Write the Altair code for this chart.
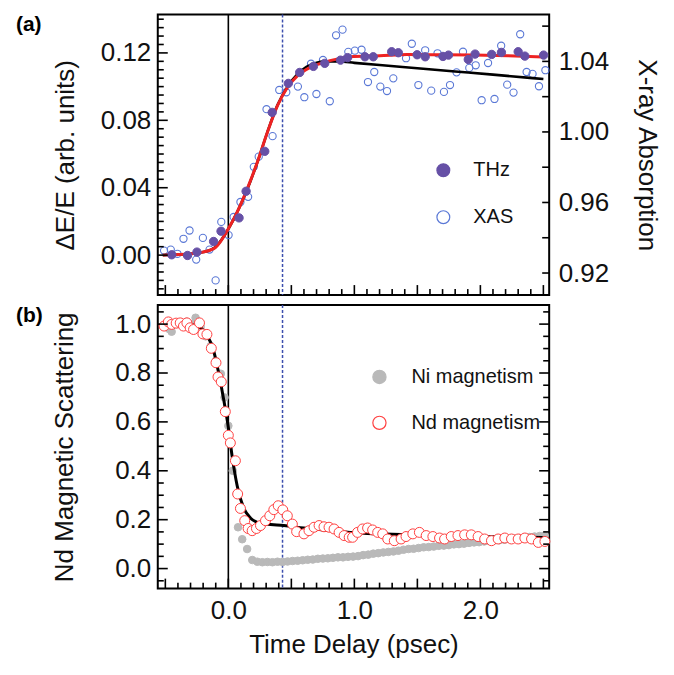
import altair as alt
import pandas as pd

# ---------------- data ----------------
# panel (a): THz (left axis) and XAS (right axis)
thz_t = [-0.449, -0.324, -0.249, -0.117, -0.058, 0.085, 0.141, 0.289, 0.348, 0.476,
         0.566, 0.675, 0.765, 0.890, 0.946, 1.084, 1.150, 1.296, 1.349, 1.498,
         1.562, 1.703, 1.747, 1.904, 1.958, 2.090, 2.167, 2.300, 2.353, 2.502]
thz_v = [0.0002, -0.0002, 0.0018, 0.0081, 0.0142, 0.0221, 0.0379, 0.0616, 0.0847, 0.1019,
         0.1084, 0.1120, 0.1138, 0.1157, 0.1172, 0.1177, 0.1177, 0.1207, 0.1201, 0.1189,
         0.1177, 0.1179, 0.1187, 0.1161, 0.1193, 0.1191, 0.1203, 0.1207, 0.1181, 0.1187]

xas_t = [-0.510, -0.457, -0.404, -0.356, -0.308, -0.255, -0.202, -0.149, -0.101, -0.056,
         0.002, 0.042, 0.096, 0.157, 0.202, 0.241, 0.303, 0.351, 0.404, 0.460,
         0.552, 0.603, 0.656, 0.699, 0.751, 0.805, 0.855, 0.906, 0.952, 1.004,
         1.057, 1.108, 1.158, 1.206, 1.259, 1.309, 1.410, 1.456, 1.508, 1.562,
         1.610, 1.660, 1.711, 1.759, 1.811, 1.862, 1.912, 1.963, 2.010, 2.061,
         2.112, 2.165, 2.213, 2.263, 2.316, 2.367, 2.414, 2.465, 2.516]
xas_v = [0.9327, 0.9333, 0.9309, 0.9394, 0.9441, 0.9276, 0.9399, 0.9333, 0.9158, 0.9490,
         0.9415, 0.9518, 0.9603, 0.9632, 0.9802, 0.9860, 1.0129, 0.9976, 1.0238, 1.0225,
         1.0257, 1.0197, 1.0387, 1.0215, 1.0408, 1.0174, 1.0548, 1.0580, 1.0454, 1.0461,
         1.0466, 1.0283, 1.0340, 1.0257, 1.0232, 1.0304, 1.0418, 1.0500, 1.0266, 1.0463,
         1.0234, 1.0446, 1.0227, 1.0266, 1.0338, 1.0455, 1.0363, 1.0378, 1.0180, 1.0391,
         1.0187, 1.0489, 1.0268, 1.0223, 1.0554, 1.0340, 1.0329, 1.0259, 1.0350]

thz_fit_t = [-0.52, -0.3, -0.2, -0.1, 0.0, 0.07, 0.15, 0.23, 0.31, 0.39, 0.47, 0.55,
             0.65, 0.76, 0.86, 0.97, 1.2, 1.42, 1.69, 1.95, 2.22, 2.5]
thz_fit_v = [0.0, 0.0008, 0.0018, 0.0047, 0.0156, 0.0255, 0.0393, 0.0551, 0.0729, 0.0887,
             0.0996, 0.1065, 0.1114, 0.1144, 0.1163, 0.1177, 0.1183, 0.1191, 0.1189,
             0.1187, 0.1183, 0.1175]

xas_fit_t = [-0.52, -0.3, -0.2, -0.1, 0.0, 0.07, 0.15, 0.23, 0.31, 0.39, 0.47, 0.55,
             0.62, 0.70, 0.78, 0.88, 1.0, 1.2, 1.5, 1.8, 2.1, 2.5]
xas_fit_v = [0.0, 0.0008, 0.0018, 0.005, 0.0155, 0.0255, 0.039, 0.055, 0.073, 0.089,
             0.100, 0.1075, 0.1118, 0.1142, 0.1150, 0.1149, 0.1141, 0.1128, 0.1109,
             0.1090, 0.1071, 0.1045]

# panel (b): magnetic scattering
ni_t = [-0.51, -0.47, -0.45, -0.41, -0.37, -0.33, -0.29, -0.26, -0.22, -0.18,
        -0.14, -0.10, -0.06, -0.03, 0.0, 0.035, 0.077, 0.11, 0.149, 0.19,
        0.23, 0.27, 0.31, 0.35, 0.39, 0.43, 0.47, 0.51, 0.55, 0.59,
        0.63, 0.67, 0.71, 0.75, 0.79, 0.83, 0.87, 0.91, 0.95, 0.99,
        1.03, 1.07, 1.11, 1.15, 1.19, 1.23, 1.27, 1.31, 1.35, 1.39,
        1.43, 1.47, 1.51, 1.55, 1.59, 1.63, 1.67, 1.71, 1.75, 1.79,
        1.83, 1.87, 1.91, 1.95, 1.99, 2.03, 2.07, 2.11, 2.15, 2.19,
        2.23, 2.27, 2.31, 2.35, 2.39, 2.43, 2.47, 2.51]
ni_v = [0.99, 0.98, 0.969, 1.0, 1.0, 1.01, 1.0, 1.026, 0.99, 0.95,
        0.91, 0.85, 0.797, 0.70, 0.584, 0.40, 0.169, 0.12, 0.080, 0.035,
        0.028, 0.026, 0.027, 0.026, 0.028, 0.027, 0.029, 0.031, 0.032, 0.034,
        0.036, 0.037, 0.040, 0.041, 0.042, 0.044, 0.046, 0.046, 0.048, 0.049,
        0.051, 0.055, 0.057, 0.061, 0.063, 0.066, 0.068, 0.070, 0.073, 0.077,
        0.080, 0.081, 0.084, 0.087, 0.088, 0.090, 0.093, 0.094, 0.096, 0.099,
        0.100, 0.102, 0.105, 0.107, 0.108, 0.111, 0.113, 0.115, 0.116, 0.118,
        0.121, 0.123, 0.125, 0.127, 0.129, 0.131, 0.133, 0.135]

nd_t = [-0.510, -0.476, -0.449, -0.414, -0.382, -0.356, -0.329, -0.303, -0.276, -0.229,
        -0.202, -0.170, -0.135, -0.098, -0.082, -0.056, -0.024, 0.000, 0.016, 0.056,
        0.074, 0.096, 0.130, 0.157, 0.189, 0.223, 0.255, 0.295, 0.329, 0.361,
        0.396, 0.432, 0.468, 0.508, 0.542, 0.600, 0.640, 0.680, 0.720, 0.759,
        0.799, 0.839, 0.879, 0.919, 0.959, 0.986, 1.025, 1.065, 1.105, 1.145,
        1.185, 1.225, 1.265, 1.317, 1.371, 1.410, 1.464, 1.516, 1.570, 1.623,
        1.676, 1.716, 1.769, 1.822, 1.875, 1.928, 1.982, 2.034, 2.088, 2.141,
        2.194, 2.247, 2.300, 2.353, 2.406, 2.460, 2.512]
nd_v = [0.992, 1.009, 0.999, 1.004, 1.005, 0.992, 1.005, 0.985, 0.978, 1.005,
        0.960, 0.958, 0.901, 0.842, 0.784, 0.764, 0.642, 0.545, 0.514, 0.441,
        0.305, 0.246, 0.196, 0.164, 0.155, 0.164, 0.176, 0.196, 0.216, 0.241,
        0.257, 0.240, 0.216, 0.182, 0.151, 0.142, 0.155, 0.169, 0.176, 0.171,
        0.169, 0.162, 0.148, 0.135, 0.128, 0.128, 0.148, 0.162, 0.166, 0.158,
        0.148, 0.142, 0.121, 0.114, 0.121, 0.131, 0.142, 0.148, 0.135, 0.131,
        0.125, 0.121, 0.131, 0.135, 0.138, 0.138, 0.131, 0.121, 0.114, 0.121,
        0.125, 0.121, 0.121, 0.125, 0.121, 0.107, 0.111]

mag_fit_t = [-0.52, -0.3, -0.22, -0.17, -0.12, -0.08, -0.04, 0.0, 0.03, 0.07, 0.12,
             0.175, 0.23, 0.3, 0.44, 0.6, 0.8, 0.97, 1.2, 1.5, 1.8, 2.1, 2.5]
mag_fit_v = [1.0, 0.998, 0.985, 0.955, 0.897, 0.808, 0.70, 0.577, 0.46, 0.339, 0.25,
             0.207, 0.189, 0.182, 0.176, 0.166, 0.156, 0.148, 0.142, 0.137, 0.133,
             0.130, 0.127]

time_zero = [0.0]
marker_t = [0.43]

# tick values
x_major = [-0.5, 0.0, 0.5, 1.0, 1.5, 2.0, 2.5]
x_minor = [round(-0.5 + 0.1 * i, 2) for i in range(31)]
x_labels = [0.0, 1.0, 2.0]
ya_labels = [0.0, 0.04, 0.08, 0.12]
ya_minor = [round(-0.02 + 0.005 * i, 3) for i in range(33)]
yr_labels = [0.92, 0.96, 1.00, 1.04]
yr_minor = [0.92, 0.94, 0.96, 0.98, 1.00, 1.02, 1.04, 1.06]
yb_labels = [0.0, 0.2, 0.4, 0.6, 0.8, 1.0]
yb_minor = [round(-0.05 + 0.05 * i, 2) for i in range(23)]

# ---------------- layout constants ----------------
W = 392
H1 = 281
H2 = 284
FONT = "Liberation Sans"

xs = alt.Scale(domain=[-0.56, 2.546], nice=False, zero=False)
yl = alt.Scale(domain=[-0.0237, 0.1428], nice=False, zero=False)
yr = alt.Scale(domain=[0.9075, 1.0666], nice=False, zero=False)
yb = alt.Scale(domain=[-0.082, 1.078], nice=False, zero=False)

df_thz = pd.DataFrame({"t": thz_t, "v": thz_v, "series": "THz"})
df_xas = pd.DataFrame({"t": xas_t, "v": xas_v, "series": "XAS"})
df_thz_fit = pd.DataFrame({"t": thz_fit_t, "v": thz_fit_v})
df_xas_fit = pd.DataFrame({"t": xas_fit_t, "v": xas_fit_v})
df_ni = pd.DataFrame({"t": ni_t, "v": ni_v, "mag": "Ni magnetism"})
df_nd = pd.DataFrame({"t": nd_t, "v": nd_v, "mag": "Nd magnetism"})
df_mag_fit = pd.DataFrame({"t": mag_fit_t, "v": mag_fit_v})
df_zero = pd.DataFrame({"t": time_zero})
df_marker = pd.DataFrame({"t": marker_t})

# top panel: no x axis
X_A = alt.X("t:Q", scale=xs, axis=None)
# bottom panel: same axis definition on every layer
x_axis_b = alt.Axis(values=x_labels, format=".1f", ticks=False, domain=False, grid=False,
                    labelPadding=9, title="Time Delay (psec)", titlePadding=8)
y_axis_b = alt.Axis(values=yb_labels, format=".1f", ticks=False, domain=False, grid=False,
                    labelPadding=7, title="Nd Magnetic Scattering", titlePadding=37)
X_B = alt.X("t:Q", scale=xs, axis=x_axis_b)


def Y_B(field="v:Q"):
    return alt.Y(field, scale=yb, axis=y_axis_b)


def vtick(values, y_enc_fn, x0, x1):
    return alt.Chart(pd.DataFrame({"v": values})).mark_rule(
        color="black", strokeWidth=1.6
    ).encode(y=y_enc_fn("v:Q"), x=alt.value(x0), x2=alt.value(x1))


def htick(values, x_enc, H, length):
    return alt.Chart(pd.DataFrame({"t": values})).mark_rule(
        color="black", strokeWidth=1.6
    ).encode(x=x_enc, y=alt.value(H), y2=alt.value(H - length))


def panel_label(text):
    return alt.Chart(pd.DataFrame({"s": [text]})).mark_text(
        font=FONT, fontSize=21, fontWeight="bold", align="left", baseline="top", color="black"
    ).encode(text="s:N", x=alt.value(-142), y=alt.value(0))


def zero_rule(x_enc):
    return alt.Chart(df_zero).mark_rule(color="black", strokeWidth=1.6).encode(x=x_enc)


def marker_rule(x_enc):
    return alt.Chart(df_marker).mark_rule(
        color="#3c4fae", strokeWidth=1.5, strokeDash=[3, 2]
    ).encode(x=x_enc)


# ---------------- panel (a) ----------------
leg_a = alt.Legend(
    title=None, orient="none", legendX=276, legendY=146, labelFontSize=20, labelFont=FONT,
    labelColor="#111111", symbolType="circle", symbolSize=165, symbolStrokeWidth=1.2,
    rowPadding=27, labelOffset=20, padding=0,
)
fill_a = alt.Scale(domain=["THz", "XAS"], range=["#6650a6", "transparent"])
stroke_a = alt.Scale(domain=["THz", "XAS"], range=["#6650a6", "#5a78d6"])


def YL(field="v:Q"):
    return alt.Y(field, scale=yl, axis=None)


def YR(field="v:Q"):
    return alt.Y(field, scale=yr, axis=None)


xas_pts = alt.Chart(df_xas).mark_point(size=52, strokeWidth=1.1, opacity=1).encode(
    x=X_A,
    y=alt.Y("v:Q", scale=yr, axis=alt.Axis(
        orient="right", values=yr_labels, format=".2f", ticks=False, domain=False,
        grid=False, labelPadding=9, title="X-ray Absorption", titlePadding=25)),
    fill=alt.Fill("series:N", scale=fill_a, legend=leg_a),
    stroke=alt.Stroke("series:N", scale=stroke_a, legend=leg_a),
)
xas_fit = alt.Chart(df_xas_fit).mark_line(color="black", strokeWidth=2.6, interpolate="monotone").encode(
    x=X_A, y=YL())
thz_fit = alt.Chart(df_thz_fit).mark_line(color="#ee2222", strokeWidth=3, interpolate="monotone").encode(
    x=X_A,
    y=alt.Y("v:Q", scale=yl, axis=alt.Axis(
        orient="left", values=ya_labels, format=".2f", ticks=False, domain=False,
        grid=False, labelPadding=7, title="ΔE/E (arb. units)", titlePadding=22)),
)
thz_pts = alt.Chart(df_thz).mark_point(size=70, strokeWidth=1, opacity=1).encode(
    x=X_A, y=YL(),
    fill=alt.Fill("series:N", scale=fill_a, legend=leg_a),
    stroke=alt.Stroke("series:N", scale=stroke_a, legend=leg_a),
)

top = alt.layer(
    zero_rule(X_A), marker_rule(X_A), xas_pts, xas_fit, thz_fit, thz_pts,
    vtick([v for v in ya_minor if v not in ya_labels], YL, 0, 6),
    vtick(ya_labels, YL, 0, 10),
    vtick(yr_minor, YR, W - 7, W),
    htick([v for v in x_minor if v not in x_major], X_A, H1, 6),
    htick(x_major, X_A, H1, 10),
    panel_label("(a)"),
).resolve_scale(y="independent").properties(width=W, height=H1)

# ---------------- panel (b) ----------------
leg_b = alt.Legend(
    title=None, orient="none", legendX=212, legendY=62, labelFontSize=20, labelFont=FONT,
    labelColor="#111111", symbolType="circle", symbolSize=175, symbolStrokeWidth=1.2,
    rowPadding=26, labelOffset=22, padding=0,
)
fill_b = alt.Scale(domain=["Ni magnetism", "Nd magnetism"], range=["#b9b9b9", "white"])
stroke_b = alt.Scale(domain=["Ni magnetism", "Nd magnetism"], range=["#b9b9b9", "#ff4040"])

ni_pts = alt.Chart(df_ni).mark_point(size=58, strokeWidth=1, opacity=1).encode(
    x=X_B, y=Y_B(),
    fill=alt.Fill("mag:N", scale=fill_b, legend=leg_b),
    stroke=alt.Stroke("mag:N", scale=stroke_b, legend=leg_b),
)
mag_fit = alt.Chart(df_mag_fit).mark_line(color="black", strokeWidth=3, interpolate="monotone").encode(
    x=X_B, y=Y_B())
nd_pts = alt.Chart(df_nd).mark_point(size=100, strokeWidth=1, opacity=1).encode(
    x=X_B, y=Y_B(),
    fill=alt.Fill("mag:N", scale=fill_b, legend=leg_b),
    stroke=alt.Stroke("mag:N", scale=stroke_b, legend=leg_b),
)

bottom = alt.layer(
    zero_rule(X_B), marker_rule(X_B), ni_pts, mag_fit, nd_pts,
    vtick([v for v in yb_minor if v not in yb_labels], Y_B, 0, 6),
    vtick(yb_labels, Y_B, 0, 10),
    vtick([v for v in yb_minor if v not in yb_labels], Y_B, W - 6, W),
    vtick(yb_labels, Y_B, W - 10, W),
    htick([v for v in x_minor if v not in x_major], X_B, H2, 6),
    htick(x_major, X_B, H2, 10),
    panel_label("(b)"),
).properties(width=W, height=H2)

chart = alt.vconcat(top, bottom, spacing=6).resolve_scale(
    fill="independent", stroke="independent"
).resolve_legend(fill="independent", stroke="independent").properties(
    padding={"left": 7, "top": 4, "right": 5, "bottom": 5}
).configure_view(stroke="black", strokeWidth=2).configure_axis(
    labelFont=FONT, titleFont=FONT, labelFontSize=26, titleFontSize=26,
    titleFontWeight="normal", labelColor="#111111", titleColor="#111111",
)

chart.save("out.html", embed_options={"renderer": "svg", "actions": False})
